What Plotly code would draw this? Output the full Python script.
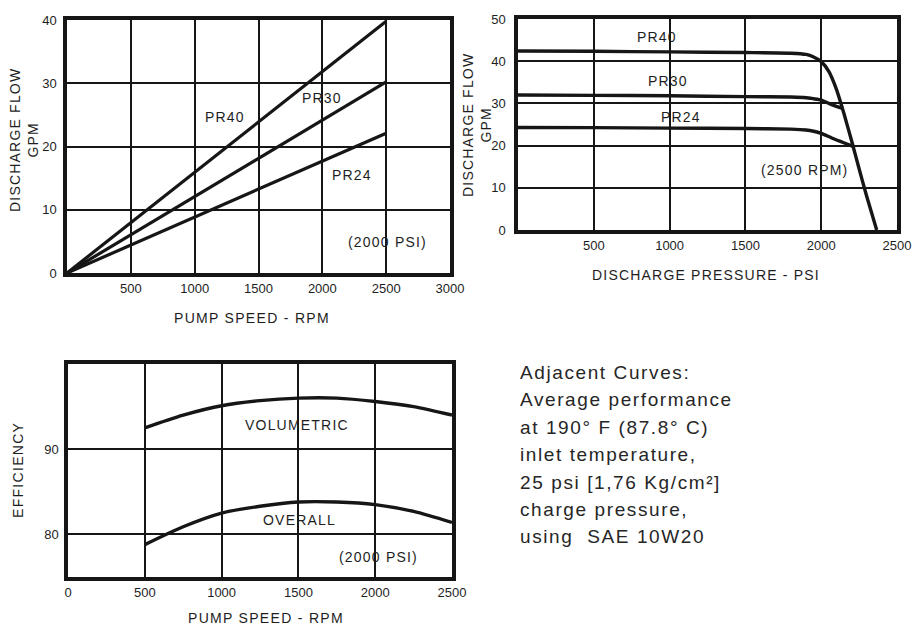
import plotly.graph_objects as go

W, H = 914, 627

# ---- Discharge flow vs pump speed (2000 PSI) ----
speed_rpm = [0, 2500]
flow_pr40 = [0, 39.8]
flow_pr30 = [0, 30.2]
flow_pr24 = [0, 22.1]

# ---- Discharge flow vs discharge pressure (2500 RPM) ----
press_pr40 = [0, 500, 1000, 1500, 1800, 1900, 1950, 2000, 2050, 2100, 2150, 2200, 2250, 2300, 2366]
q_pr40 = [42.4, 42.35, 42.2, 42.05, 41.9, 41.6, 41.0, 39.9, 37.6, 33.4, 27.6, 21.2, 14.5, 8.0, 0]
press_pr30 = [0, 500, 1000, 1500, 1800, 1900, 1950, 2000, 2050, 2100, 2140]
q_pr30 = [32.0, 31.9, 31.8, 31.6, 31.5, 31.35, 31.1, 30.8, 30.0, 29.3, 28.8]
press_pr24 = [0, 500, 1000, 1500, 1800, 1900, 1950, 2000, 2070, 2140, 2210]
q_pr24 = [24.3, 24.25, 24.15, 24.05, 23.9, 23.7, 23.4, 22.9, 21.8, 20.8, 19.8]

# ---- Efficiency vs pump speed (2000 PSI) ----
eff_speed = [500, 750, 1000, 1250, 1500, 1750, 2000, 2250, 2500]
eff_volumetric = [92.5, 94.0, 95.1, 95.7, 96.0, 96.0, 95.6, 95.0, 94.0]
eff_overall = [78.8, 80.9, 82.5, 83.3, 83.8, 83.8, 83.5, 82.7, 81.4]

# tick labels
c1_xticks = [500, 1000, 1500, 2000, 2500, 3000]
c1_yticks = [0, 10, 20, 30, 40]
c2_xticks = [500, 1000, 1500, 2000, 2500]
c2_yticks = [0, 10, 20, 30, 40, 50]
c3_xticks = [0, 500, 1000, 1500, 2000, 2500]
c3_yticks = [80, 90]

notes = [
    "Adjacent Curves:",
    "Average performance",
    "at 190\u00b0 F (87.8\u00b0 C)",
    "inlet temperature,",
    "25 psi [1,76 Kg/cm\u00b2]",
    "charge pressure,",
    "using  SAE 10W20",
]

INK = "#161616"
TXT = "#1e1e1e"
FONT = "Liberation Sans, Arial, Helvetica, sans-serif"


def spaced(s, ls=1.2):
    return f'<span style="letter-spacing:{ls}px">{s}</span>'


def px_x(p):
    return p / W


def px_y(p):
    return 1 - p / H


fig = go.Figure()

curve = dict(color=INK, width=3.2)

# chart 1
for ys in (flow_pr40, flow_pr30, flow_pr24):
    fig.add_trace(go.Scatter(x=speed_rpm, y=ys, mode="lines", line=curve,
                             xaxis="x", yaxis="y", showlegend=False, hoverinfo="skip"))
# chart 2
for xs, ys in ((press_pr40, q_pr40), (press_pr30, q_pr30), (press_pr24, q_pr24)):
    fig.add_trace(go.Scatter(x=xs, y=ys, mode="lines",
                             line=dict(color=INK, width=3.4, shape="spline", smoothing=0.6),
                             xaxis="x2", yaxis="y2", showlegend=False, hoverinfo="skip"))
# chart 3
for ys in (eff_volumetric, eff_overall):
    fig.add_trace(go.Scatter(x=eff_speed, y=ys, mode="lines",
                             line=dict(color=INK, width=3.4, shape="spline", smoothing=0.8),
                             xaxis="x3", yaxis="y3", showlegend=False, hoverinfo="skip"))


def axis(domain, rng, ticks, anchor, grid_w=2, standoff=4):
    return dict(
        domain=domain, range=rng, anchor=anchor, automargin=False,
        tickmode="array", tickvals=ticks, ticktext=[str(t) for t in ticks],
        showline=True, linecolor=INK, linewidth=3.5, mirror=True,
        showgrid=True, gridcolor=INK, gridwidth=grid_w,
        zeroline=False, ticks="", ticklabelstandoff=standoff,
        tickfont=dict(size=13, color=TXT, family=FONT),
        fixedrange=True,
    )


c1_x = [px_x(67), px_x(450)]
c1_y = [px_y(273), px_y(20)]
c2_x = [px_x(518), px_x(897)]
c2_y = [px_y(230), px_y(19)]
c3_x = [px_x(68), px_x(452)]
c3_y = [px_y(577), px_y(364)]

fig.update_layout(
    template="none",
    width=W, height=H,
    margin=dict(l=0, r=0, t=0, b=0, pad=0),
    paper_bgcolor="white", plot_bgcolor="white",
    font=dict(family=FONT, color=TXT, size=14),
    xaxis=axis(c1_x, [0, 3000], c1_xticks, "y", standoff=1),
    yaxis=axis(c1_y, [0, 40], c1_yticks, "x", standoff=4),
    xaxis2=axis(c2_x, [0, 2500], c2_xticks, "y2", standoff=1),
    yaxis2=axis(c2_y, [0, 50], c2_yticks, "x2", standoff=6),
    xaxis3=axis(c3_x, [0, 2500], c3_xticks, "y3", grid_w=1.6, standoff=1),
    yaxis3=axis(c3_y, [75, 100], c3_yticks, "x3", standoff=3),
)

ann = []


def label(text, x, y, xref, yref, size=14, ls=1.2, color=TXT, **kw):
    opts = dict(xanchor="center", yanchor="middle")
    opts.update(kw)
    ann.append(dict(text=spaced(text, ls), x=x, y=y, xref=xref, yref=yref,
                    showarrow=False, font=dict(size=size, color=color, family=FONT), **opts))


# curve labels inside the plots
label("PR40", 1238, 24.7, "x", "y")
label("PR30", 2000, 27.7, "x", "y")
label("PR24", 2232, 15.5, "x", "y")
label("(2000 PSI)", 2511, 4.96, "x", "y")

label("PR40", 917, 45.8, "x2", "y2")
label("PR30", 989, 35.3, "x2", "y2")
label("PR24", 1075, 26.8, "x2", "y2")
label("(2500 RPM)", 1893, 14.2, "x2", "y2")

label("VOLUMETRIC", 1488, 92.85, "x3", "y3")
label("OVERALL", 1510, 81.7, "x3", "y3")
label("(2000 PSI)", 2021, 77.3, "x3", "y3")

# axis titles
label("PUMP SPEED - RPM", px_x(252), px_y(318), "paper", "paper", ls=1.3)
label("DISCHARGE FLOW<br>GPM", px_x(24), px_y(140), "paper", "paper", ls=1.2, textangle=-90)
label("DISCHARGE PRESSURE - PSI", px_x(706), px_y(275), "paper", "paper", ls=1.2)
label("DISCHARGE FLOW<br>GPM", px_x(477), px_y(125), "paper", "paper", ls=1.2, textangle=-90)
label("EFFICIENCY", px_x(18), px_y(470), "paper", "paper", ls=1.3, textangle=-90)
label("PUMP SPEED - RPM", px_x(266), px_y(618), "paper", "paper", ls=1.3)

# notes block
note_y = [372, 399.5, 427, 454.5, 482, 509, 536]
for txt, yy in zip(notes, note_y):
    label(txt, px_x(518), px_y(yy), "paper", "paper", size=19, ls=1.6, color="#262626",
          xanchor="left", yanchor="middle")

fig.update_layout(annotations=ann)

fig.write_html("out.html")
